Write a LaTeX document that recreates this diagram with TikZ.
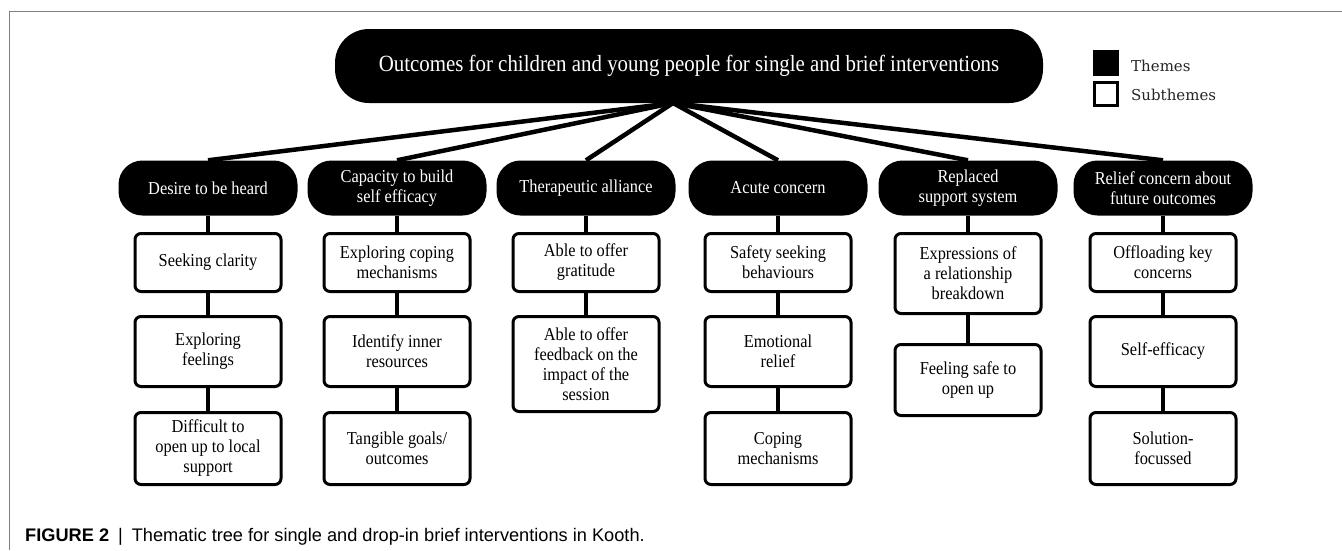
\documentclass[tikz,border=0pt]{standalone}
\usepackage{fontspec}
\setmainfont[FakeStretch=0.9]{Liberation Serif}
\newfontfamily\legendfont{DejaVu Serif}
\newfontfamily\capfont{Liberation Sans}
\begin{document}
\begin{tikzpicture}[x=1pt,y=-1pt,
  topbox/.style={fill=black, text=white, rounded corners=34pt, minimum width=708pt, minimum height=74pt, inner sep=0pt, font=\fontsize{23.2}{26}\selectfont},
  theme/.style={fill=black, text=white, rounded corners=24pt, minimum width=179pt, minimum height=55pt, inner sep=0pt, align=center, font=\fontsize{18.2}{20.5}\selectfont},
  sub/.style={draw=black, fill=white, line width=3pt, rounded corners=6pt, minimum width=146pt, inner sep=0pt, align=center, font=\fontsize{18.2}{20}\selectfont},
  topline/.style={line width=4.5pt},
  subline/.style={line width=3.5pt},
  legtext/.style={anchor=west, inner sep=0pt, font=\legendfont\fontsize{15}{18}\selectfont, text=black!85}
]
\useasboundingbox (0,0) rectangle (1342,550);
\draw[black!50, line width=1pt] (9,550) -- (9,11) -- (1342,11);

% top
\node[topbox] (top) at (689,66) {Outcomes for children and young people for single and brief interventions};
\coordinate (apex) at (673,103);

% legend
\node[fill=black, minimum size=26pt, inner sep=0pt] (legT) at (1106,63) {};
\node[draw=black, line width=3pt, fill=white, minimum size=23pt, inner sep=0pt] (legS) at (1106,94) {};
\node[legtext] (legTt) at (1131,66) {Themes};
\node[legtext] (legSt) at (1131,95) {Subthemes};

% themes
\node[theme] (t1) at (208,188) {Desire to be heard};
\node[theme] (t2) at (397,188) {Capacity to build\\self efficacy};
\node[theme] (t3) at (586,188) {Therapeutic alliance};
\node[theme] (t4) at (778,188) {Acute concern};
\node[theme] (t5) at (968,188) {Replaced\\support system};
\node[theme] (t6) at (1163,188) {Relief concern about\\future outcomes};

% subthemes
\node[sub, minimum height=58pt] (s11) at (208,262.5) {Seeking clarity};
\node[sub, minimum height=70pt] (s12) at (208,351.5) {Exploring\\feelings};
\node[sub, minimum height=72pt] (s13) at (208,448.5) {Difficult to\\open up to local\\support};

\node[sub, minimum height=58pt] (s21) at (397,262.5) {Exploring coping\\mechanisms};
\node[sub, minimum height=70pt] (s22) at (397,351.5) {Identify inner\\resources};
\node[sub, minimum height=72pt] (s23) at (397,448.5) {Tangible goals/\\outcomes};

\node[sub, minimum height=58pt] (s31) at (586,262.5) {Able to offer\\gratitude};
\node[sub, minimum height=95pt] (s32) at (586,364) {Able to offer\\feedback on the\\impact of the\\session};

\node[sub, minimum height=58pt] (s41) at (778,262.5) {Safety seeking\\behaviours};
\node[sub, minimum height=70pt] (s42) at (778,351.5) {Emotional\\relief};
\node[sub, minimum height=72pt] (s43) at (778,448.5) {Coping\\mechanisms};

\node[sub, minimum height=80pt] (s51) at (968,273.5) {Expressions of\\a relationship\\breakdown};
\node[sub, minimum height=71pt] (s52) at (968,380) {Feeling safe to\\open up};

\node[sub, minimum height=58pt] (s61) at (1163,262.5) {Offloading key\\concerns};
\node[sub, minimum height=70pt] (s62) at (1163,351.5) {Self-efficacy};
\node[sub, minimum height=72pt] (s63) at (1163,448.5) {Solution-\\focussed};

% connectors top -> themes
\foreach \t in {t1,t2,t3,t4,t5,t6}
  \draw[topline] (apex) -- (\t.north);

% theme -> subs
\draw[subline] (t1.south) -- (s11.north) (s11.south) -- (s12.north) (s12.south) -- (s13.north);
\draw[subline] (t2.south) -- (s21.north) (s21.south) -- (s22.north) (s22.south) -- (s23.north);
\draw[subline] (t3.south) -- (s31.north) (s31.south) -- (s32.north);
\draw[subline] (t4.south) -- (s41.north) (s41.south) -- (s42.north) (s42.south) -- (s43.north);
\draw[subline] (t5.south) -- (s51.north) (s51.south) -- (s52.north);
\draw[subline] (t6.south) -- (s61.north) (s61.south) -- (s62.north) (s62.south) -- (s63.north);

% caption
\node[anchor=west, inner sep=0pt, font=\capfont\fontsize{18.2}{20}\selectfont] (cap) at (25,537)
  {\textbf{FIGURE 2}\hspace{9pt}|\hspace{9pt}Thematic tree for single and drop-in brief interventions in Kooth.};
\end{tikzpicture}
\end{document}
